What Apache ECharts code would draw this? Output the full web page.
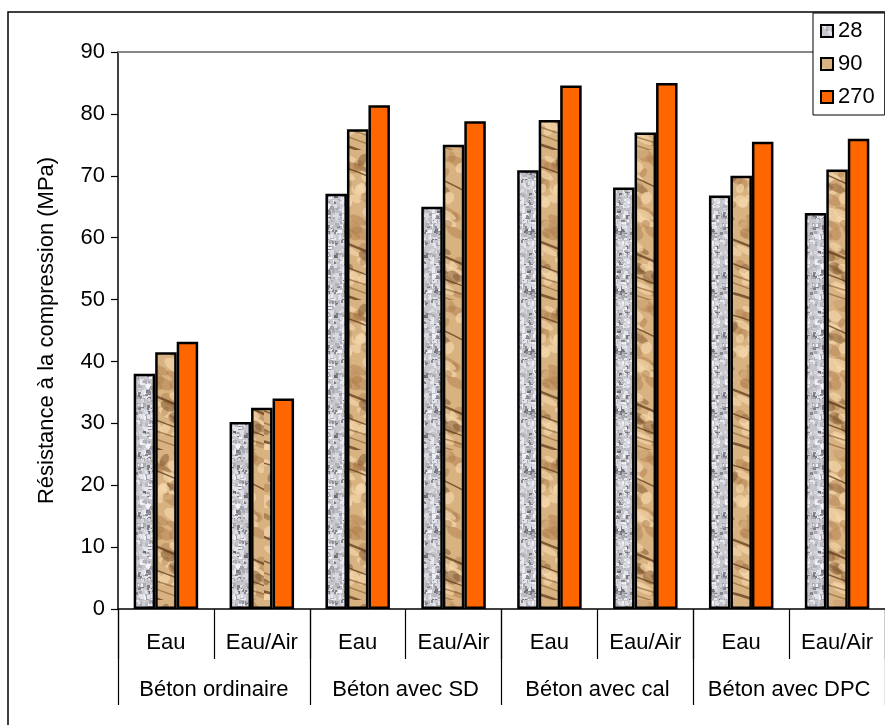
<!DOCTYPE html>
<html>
<head>
<meta charset="utf-8">
<script src="https://cdn.jsdelivr.net/npm/echarts@6/dist/echarts.min.js"></script>
<style>
  html, body { margin: 0; padding: 0; background: #fff; }
  #chart { width: 885px; height: 725px; }
</style>
</head>
<body>
<div id="chart"></div>
<script>
// Sub-categories (curing mode) and their concrete groups
const subCategories = ['Eau', 'Eau/Air', 'Eau', 'Eau/Air', 'Eau', 'Eau/Air', 'Eau', 'Eau/Air'];
const groupCategories = ['Béton ordinaire', 'Béton avec SD', 'Béton avec cal', 'Béton avec DPC'];
const seriesNames = ['28', '90', '270'];

// Compressive strength (MPa) at 28, 90 and 270 days
const values28  = [38.0, 30.2, 67.1, 65.0, 70.9, 68.1, 66.8, 64.0];
const values90  = [41.5, 32.5, 77.5, 75.0, 79.0, 77.0, 70.0, 71.0];
const values270 = [43.2, 34.0, 81.4, 78.8, 84.6, 85.0, 75.5, 76.0];

const yTicks = { min: 0, max: 90, interval: 10 };

// Small deterministic generator for the texture speckle
function makeRng(seed) {
  let s = seed >>> 0;
  return function () {
    s = (s * 1664525 + 1013904223) >>> 0;
    return s / 4294967296;
  };
}

// Granite-like grey texture
function graniteTexture() {
  const c = document.createElement('canvas');
  c.width = 45; c.height = 60;
  const g = c.getContext('2d');
  const rnd = makeRng(12345);
  g.fillStyle = '#c6c6cb';
  g.fillRect(0, 0, c.width, c.height);
  for (let i = 0; i < 420; i++) {
    const x = Math.floor(rnd() * c.width), y = Math.floor(rnd() * c.height);
    const r = rnd();
    let v;
    if (r < 0.18) v = 105 + Math.floor(rnd() * 40);
    else if (r < 0.5) v = 160 + Math.floor(rnd() * 30);
    else v = 205 + Math.floor(rnd() * 40);
    g.fillStyle = 'rgb(' + v + ',' + v + ',' + (v + 8) + ')';
    g.fillRect(x, y, 2 + Math.floor(rnd() * 3), 2 + Math.floor(rnd() * 3));
  }
  return c;
}

// Sandstone / wood-like brown texture
function sandTexture() {
  const c = document.createElement('canvas');
  c.width = 66; c.height = 150;
  const g = c.getContext('2d');
  const rnd = makeRng(777);
  g.fillStyle = '#d8b280';
  g.fillRect(0, 0, c.width, c.height);
  for (let i = 0; i < 90; i++) {
    const x = rnd() * c.width, y = rnd() * c.height;
    const rx = 3 + rnd() * 8, ry = 2 + rnd() * 5;
    const t = rnd();
    g.fillStyle = t < 0.5 ? 'rgba(244,214,170,0.7)' : (t < 0.85 ? 'rgba(175,125,75,0.45)' : 'rgba(120,78,40,0.45)');
    g.beginPath();
    g.ellipse(x, y, rx, ry, 0.5, 0, Math.PI * 2);
    g.fill();
  }
  g.lineCap = 'round';
  for (let i = 0; i < 6; i++) {
    const y0 = rnd() * c.height;
    g.strokeStyle = rnd() < 0.5 ? 'rgba(95,58,25,0.75)' : 'rgba(135,88,42,0.6)';
    g.lineWidth = 1 + rnd() * 2.5;
    g.beginPath();
    g.moveTo(-6, y0);
    g.quadraticCurveTo(c.width * 0.4, y0 + 4 + rnd() * 14, c.width + 6, y0 + 20 + rnd() * 14);
    g.stroke();
  }
  return c;
}

const fills = [
  { image: graniteTexture(), repeat: 'repeat' },
  { image: sandTexture(), repeat: 'repeat' },
  '#ff6600'
];
const seriesData = [values28, values90, values270];

const chart = echarts.init(document.getElementById('chart'), null, { renderer: 'canvas' });

const labelFont = { fontFamily: 'Liberation Sans, Arial, sans-serif', color: '#000' };

chart.setOption({
  backgroundColor: '#fff',
  animation: false,
  grid: { left: 118, top: 52, width: 777, height: 557, containLabel: false },
  graphic: [{
    type: 'rect',
    z: -1,
    shape: { x: 8, y: 12, width: 900, height: 800 },
    style: { fill: 'none', stroke: '#000', lineWidth: 1.5 }
  }],
  legend: {
    orient: 'vertical',
    left: 813,
    top: 13,
    padding: [7, 10, 7, 7],
    itemWidth: 12,
    itemHeight: 12,
    itemGap: 11,
    backgroundColor: '#fff',
    borderColor: '#000',
    borderWidth: 1,
    icon: 'rect',
    textStyle: Object.assign({ fontSize: 22 }, labelFont),
    data: seriesNames
  },
  xAxis: [
    {
      type: 'category',
      data: subCategories,
      position: 'bottom',
      axisLine: { lineStyle: { color: '#000', width: 1.5 } },
      axisTick: { show: true, length: 50, alignWithLabel: false, lineStyle: { color: '#000', width: 1.2 } },
      axisLabel: Object.assign({ fontSize: 22, margin: 23, interval: 0 }, labelFont),
      splitLine: { show: false }
    },
    {
      type: 'category',
      data: groupCategories,
      position: 'bottom',
      offset: 0,
      axisLine: { show: false },
      axisTick: { show: true, length: 96, alignWithLabel: false, lineStyle: { color: '#000', width: 1.2 } },
      axisLabel: Object.assign({ fontSize: 22, margin: 70, interval: 0 }, labelFont),
      splitLine: { show: false }
    },
    {
      type: 'category',
      data: subCategories,
      position: 'top',
      axisLine: { show: true, lineStyle: { color: '#888', width: 2 } },
      axisTick: { show: false },
      axisLabel: { show: false },
      splitLine: { show: false }
    }
  ],
  yAxis: {
    type: 'value',
    min: yTicks.min,
    max: yTicks.max,
    interval: yTicks.interval,
    name: 'Résistance à la compression (MPa)',
    nameLocation: 'middle',
    nameGap: 60,
    nameRotate: 90,
    nameTextStyle: Object.assign({ fontSize: 22 }, labelFont),
    axisLine: { show: true, lineStyle: { color: '#000', width: 1.5 } },
    axisTick: { show: true, length: 7, lineStyle: { color: '#000', width: 1.2 } },
    axisLabel: Object.assign({ fontSize: 22, margin: 13 }, labelFont),
    splitLine: { show: false }
  },
  series: seriesNames.map((name, i) => ({
    name: name,
    type: 'bar',
    xAxisIndex: 0,
    data: seriesData[i],
    barWidth: 21.5,
    barGap: '0%',
    itemStyle: { color: fills[i], borderColor: '#000', borderWidth: 2.5 }
  }))
});
</script>
</body>
</html>
